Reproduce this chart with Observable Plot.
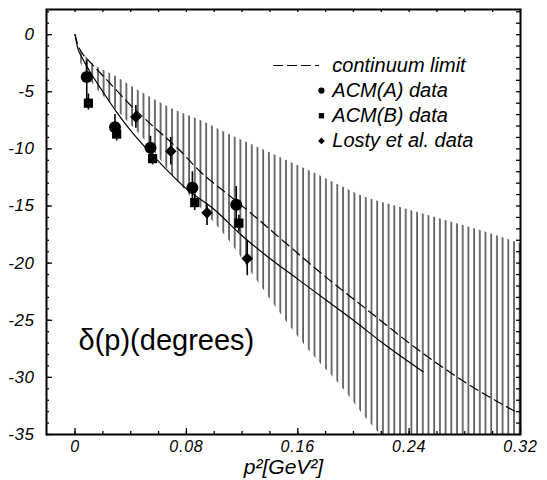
<!DOCTYPE html>
<html><head><meta charset="utf-8">
<script src="https://cdn.jsdelivr.net/npm/d3@7"></script>
<script src="https://cdn.jsdelivr.net/npm/@observablehq/plot@0.6"></script>
<style>
body{margin:0;background:#fff}
svg{display:block}
g[aria-label="x-axis tick label"] text{font-style:italic;font-size:16px;letter-spacing:0.8px}
g[aria-label="y-axis tick label"] text{font-style:italic;font-size:17px;letter-spacing:0.6px}
g[aria-label="legend"] text{letter-spacing:2.2px}
g[aria-label="x title"] text{letter-spacing:2.4px}
g[aria-label="note"] text{letter-spacing:1.6px}
</style>
</head><body><div id="chart"></div>
<script>
// ---- data ----
const solidX = [0, 0.002, 0.005, 0.01, 0.02, 0.03, 0.04, 0.05, 0.06, 0.08, 0.10, 0.12, 0.14, 0.16, 0.18, 0.20, 0.22, 0.25];
const solidY = [0, -1.2, -2.0, -3.1, -5.0, -6.8, -8.4, -9.8, -11.1, -13.5, -15.3, -17.6, -19.6, -21.4, -23.2, -25.0, -26.9, -29.5];

const dashX = [0, 0.002, 0.005, 0.01, 0.02, 0.03, 0.04, 0.055, 0.075, 0.09, 0.11, 0.13, 0.15, 0.18, 0.21, 0.25, 0.285, 0.318];
const dashY = [0, -0.9, -1.6, -2.3, -3.6, -4.9, -6.2, -7.9, -10.1, -12.0, -14.0, -16.0, -18.1, -21.2, -24.1, -27.9, -30.8, -33.1];

const bandX  = [0.004, 0.01, 0.03, 0.05, 0.07, 0.09, 0.11, 0.13, 0.15, 0.17, 0.19, 0.21, 0.23, 0.25, 0.27, 0.29, 0.32];
const bandHi = [-1.3, -2.2, -3.7, -5.2, -6.5, -7.5, -8.7, -9.8, -10.9, -12.0, -13.2, -14.3, -15.0, -15.7, -16.4, -17.1, -18.3];
const bandLo = [-2.5, -3.8, -6.6, -9.2, -12.3, -15.1, -17.9, -21.4, -24.8, -27.9, -30.6, -33.7, -36.5, -39.5, -42.5, -45.5, -50];

const acmAx  = [0.0084, 0.0287, 0.0542, 0.0843, 0.1158];
const acmAy  = [-3.7, -8.1, -9.9, -13.4, -14.9];
const acmAhi = [-2.3, -7.0, -8.9, -12.0, -13.3];
const acmAlo = [-5.8, -8.8, -10.6, -14.4, -16.4];

const acmBx  = [0.0096, 0.0299, 0.0557, 0.086, 0.1177];
const acmBy  = [-6.0, -8.7, -10.85, -14.7, -16.5];
const acmBhi = [-5.2, -8.2, -10.3, -14.0, -15.8];
const acmBlo = [-6.6, -9.3, -11.4, -15.4, -17.3];

const lostyX  = [0.0437, 0.0688, 0.0948, 0.1237];
const lostyY  = [-7.2, -10.2, -15.6, -19.6];
const lostyHi = [-6.2, -9.0, -14.8, -18.0];
const lostyLo = [-8.2, -11.4, -16.7, -21.1];

const legendLabels  = ["continuum limit", "ACM(A) data", "ACM(B) data", "Losty et al. data"];
const legendSymbols = [null, "circle", "square", "diamond2"];

const xTickLabels = [0, 0.08, 0.16, 0.24, 0.32];
const yTickLabels = [0, -5, -10, -15, -20, -25, -30, -35];
const xTitle = "p²[GeV²]";
const yNote = "δ(p)(degrees)";

// ---- layout ----
const W = 547, H = 480, mL = 46, mR = 27, mT = 9, mB = 46;
const fw = W - mL - mR, fh = H - mT - mB;
const legendRows = [-2.7, -4.9, -7.1, -9.3];
const legendTextX = 0.1848, legendMarkX = 0.177, legendDash = [0.1426, 0.175];

const solid = solidX.map((x, i) => ({x, y: solidY[i]}));
const dash = dashX.map((x, i) => ({x, y: dashY[i]}));
const band = bandX.map((x, i) => ({x, hi: bandHi[i], lo: bandLo[i]}));
const acmA = acmAx.map((x, i) => ({x, y: acmAy[i], hi: acmAhi[i], lo: acmAlo[i]}));
const acmB = acmBx.map((x, i) => ({x, y: acmBy[i], hi: acmBhi[i], lo: acmBlo[i]}));
const losty = lostyX.map((x, i) => ({x, y: lostyY[i], hi: lostyHi[i], lo: lostyLo[i]}));
const legend = legendLabels.map((t, i) => ({t, s: legendSymbols[i], y: legendRows[i]}));

const xMinor = d3.range(0, 17).map(i => +(i * 0.02).toFixed(2));
const yMinor = d3.range(-35, 3);

const plot = Plot.plot({
  width: W, height: H,
  marginLeft: mL, marginRight: mR, marginTop: mT, marginBottom: mB,
  x: {domain: [-0.0205, 0.32], label: null},
  y: {domain: [-35, 2.2], label: null},
  style: {fontFamily: "'Liberation Sans', Arial, sans-serif", background: "white", color: "black"},
  marks: [
    Plot.areaY(band, {x: "x", y1: "lo", y2: "hi", fill: "url(#hatch)", curve: "monotone-x", clip: true}),
    Plot.line(solid, {x: "x", y: "y", stroke: "black", strokeWidth: 1.2, curve: "monotone-x"}),
    Plot.line(dash, {x: "x", y: "y", stroke: "black", strokeWidth: 1.2, strokeDasharray: "9,5", curve: "monotone-x", clip: true}),
    Plot.ruleX(acmA, {x: "x", y1: "hi", y2: "lo", stroke: "black", strokeWidth: 1.6}),
    Plot.ruleX(acmB, {x: "x", y1: "hi", y2: "lo", stroke: "black", strokeWidth: 1.6}),
    Plot.ruleX(losty, {x: "x", y1: "hi", y2: "lo", stroke: "black", strokeWidth: 1.6}),
    Plot.dot(acmA, {x: "x", y: "y", r: 6, fill: "black", symbol: "circle"}),
    Plot.dot(acmB, {x: "x", y: "y", r: 5.2, fill: "black", symbol: "square"}),
    Plot.dot(losty, {x: "x", y: "y", r: 5.2, fill: "black", symbol: "diamond2"}),
    // legend
    Plot.line(legendDash.map(x => ({x, y: legendRows[0]})), {x: "x", y: "y", stroke: "black", strokeWidth: 1.2, strokeDasharray: "9,5"}),
    Plot.dot(legend.filter(d => d.s), {x: () => legendMarkX, y: "y", symbol: "s", r: d => d.s === "circle" ? 5.4 : 5, fill: "black"}),
    Plot.text(legend, {x: () => legendTextX, y: "y", text: "t", textAnchor: "start", fontSize: 20, fontStyle: "italic", ariaLabel: "legend"}),
    // annotation
    Plot.text([yNote], {x: () => 0.0025, y: () => -27.6, text: d => d, textAnchor: "start", lineAnchor: "bottom", fontSize: 29, ariaLabel: "note"}),
    // frame & inward ticks
    Plot.frame({stroke: "black", strokeWidth: 2}),
    Plot.ruleX(xMinor, {stroke: "black", strokeWidth: 1.3, insetTop: fh - 3}),
    Plot.ruleX(xTickLabels, {stroke: "black", strokeWidth: 1.3, insetTop: fh - 6}),
    Plot.ruleX(xMinor, {stroke: "black", strokeWidth: 1.3, insetBottom: fh - 3}),
    Plot.ruleY(yMinor, {stroke: "black", strokeWidth: 1.3, insetRight: fw - 3}),
    Plot.ruleY(yTickLabels, {stroke: "black", strokeWidth: 1.3, insetRight: fw - 6}),
    Plot.ruleY(yMinor, {stroke: "black", strokeWidth: 1.3, insetLeft: fw - 4}),
    Plot.axisX({ticks: xTickLabels, tickSize: 0, tickPadding: 6, tickFormat: d => String(d), label: null}),
    Plot.axisY({ticks: yTickLabels, tickSize: 0, tickPadding: 12, tickFormat: d => String(d), label: null}),
    Plot.text([xTitle], {frameAnchor: "bottom", dy: 39, lineAnchor: "bottom", text: d => d, fontSize: 21, fontStyle: "italic", ariaLabel: "x title"})
  ]
});

const defs = d3.select(plot).insert("defs", ":first-child");
const pat = defs.append("pattern").attr("id", "hatch")
  .attr("patternUnits", "userSpaceOnUse").attr("width", 5.7).attr("height", 10);
pat.append("line").attr("x1", 1).attr("x2", 1).attr("y1", 0).attr("y2", 10)
  .attr("stroke", "#111").attr("stroke-width", 1.2);

document.getElementById("chart").appendChild(plot);
</script>
</body></html>
